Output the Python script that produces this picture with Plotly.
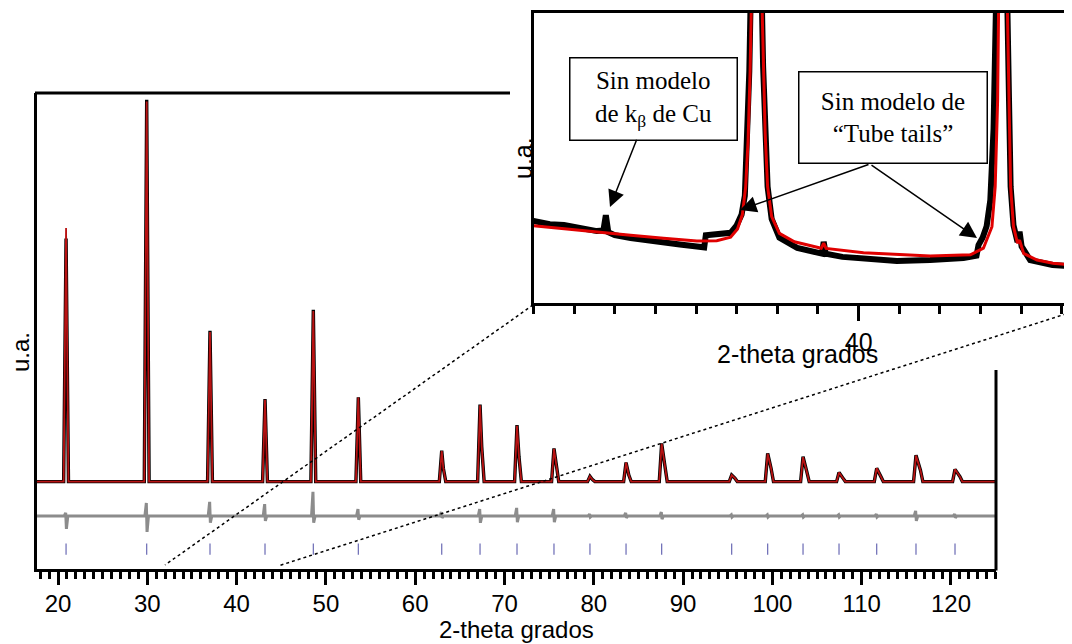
import plotly.graph_objects as go

# The page body has an 8 px margin, so the figure fills the rest of the 1072x644 window.
OFF = 8
W, H = 1072 - OFF, 644 - OFF

# ---------------- main pattern data (2-theta, relative intensity) ----------------
peak_pos = [20.90, 29.93, 37.02, 43.18, 48.59, 53.63, 62.97, 67.26, 71.40, 75.54,
            79.57, 83.61, 87.60, 95.44, 99.47, 103.43, 107.46, 111.68, 116.08, 120.45]
obs_height = [63.7, 100.0, 39.5, 21.6, 45.0, 22.1, 8.1, 20.2, 14.8, 8.7,
              1.4, 5.0, 10.0, 1.7, 7.4, 6.5, 2.4, 3.5, 6.9, 3.2]
calc_height = [66.4, 99.6, 39.2, 21.4, 44.7, 22.0, 8.0, 20.0, 14.6, 8.6,
               1.4, 5.0, 9.9, 1.7, 7.3, 6.4, 2.4, 3.5, 6.8, 3.2]
# K-alpha2 shoulders
ka2_pos = [21.00, 30.03, 37.12, 43.30, 48.73, 53.80, 63.15, 67.45, 71.62, 75.80,
           79.85, 83.92, 87.95, 95.80, 99.85, 103.85, 107.90, 112.15, 116.58, 121.00]
ka2_height = [0.0, 0.0, 0.0, 0.0, 0.0, 0.0, 3.5, 9.1, 6.5, 3.9,
              0.5, 1.7, 4.3, 0.9, 3.5, 2.6, 0.9, 1.3, 3.0, 1.3]
# difference curve (obs - calc) excursions at each reflection
res_up = [0.8, 3.4, 3.7, 3.1, 6.3, 1.8, 1.0, 1.8, 2.1, 1.8,
          0.5, 0.8, 1.0, 0.3, 0.3, 0.3, 0.3, 0.5, 1.3, 0.5]
res_down = [3.4, 4.2, 1.8, 1.3, 1.8, 1.0, 0.5, 1.8, 1.6, 1.6,
            0.3, 0.5, 0.8, 0.3, 0.3, 0.3, 0.3, 0.3, 1.3, 0.5]
bragg_pos = peak_pos

X_MIN, X_MAX = 17.59, 125.04
Y_MIN, Y_MAX = -22.9, 101.8
RES_OFFSET = -9.0
BRAGG_LEVEL = -17.7

# ---------------- inset data (zoom 32-45 deg) ----------------
inset_calc_x = [32.0, 32.8, 33.56, 34.39, 35.2, 36.02, 36.51, 36.85, 37.02, 37.14, 37.22,
                37.28, 37.33, 37.37, 37.61, 37.65, 37.70, 37.76, 37.86, 38.05, 38.42,
                39.08, 39.14, 39.20, 40.12, 41.76, 42.75, 43.07, 43.28, 43.36, 43.42,
                43.45, 43.65, 43.70, 43.74, 43.81, 43.91, 43.96, 44.06, 44.39, 44.78, 45.3]
inset_calc_y = [26.6, 25.6, 24.6, 23.4, 22.3, 21.4, 21.5, 22.7, 25.5, 30.5, 40.0,
                56.0, 80.0, 110.0, 110.0, 81.5, 58.5, 40.1, 29.8, 24.0, 21.1,
                18.9, 20.6, 18.8, 17.3, 16.2, 16.6, 18.9, 26.3, 40.1, 70.0,
                110.0, 110.0, 70.0, 40.1, 26.3, 20.6, 21.7, 17.1, 14.8, 13.7, 13.0]
inset_obs_x = [32.0, 32.4, 32.75, 33.2, 33.56, 33.72, 33.78, 33.84, 34.0, 34.39, 34.8,
               35.2, 35.6, 36.02, 36.2, 36.24, 36.5, 36.85, 37.0, 37.12, 37.2, 37.26,
               37.31, 37.35, 37.61, 37.65, 37.70, 37.76, 37.86, 38.05, 38.49, 39.0,
               39.1, 39.14, 39.19, 39.6, 40.12, 40.94, 41.76, 42.58, 42.9, 42.95, 43.05,
               43.15, 43.24, 43.32, 43.39, 43.65, 43.70, 43.74, 43.81, 43.91, 43.96,
               44.01, 44.22, 44.5, 44.77, 45.3]
inset_obs_y = [28.3, 27.2, 26.9, 25.6, 24.8, 25.0, 30.3, 24.4, 23.4, 22.4, 21.5,
               20.9, 20.2, 19.5, 19.2, 23.4, 23.6, 24.2, 26.8, 30.5, 37.0, 55.0,
               80.0, 110.0, 110.0, 81.5, 58.5, 40.1, 29.0, 22.5, 19.0, 17.3,
               17.0, 21.1, 17.0, 15.9, 15.2, 14.5, 14.8, 15.5, 16.3, 20.0, 22.5,
               26.5, 35.5, 60.0, 110.0, 110.0, 70.0, 40.1, 26.8, 21.0, 24.6,
               19.5, 14.8, 13.8, 13.1, 12.7]

I_X_MIN, I_X_MAX = 32.0, 45.25
I_Y_MIN, I_Y_MAX = 0.0, 100.0

HALF = 0.27


def profile(heights):
    xs, ys = [X_MIN], [0.0]
    for p, h, p2, s in zip(peak_pos, heights, ka2_pos, ka2_height):
        xs += [p - HALF, p]
        ys += [0.0, h]
        if s > 0:
            xs += [p2, p2 + HALF]
            ys += [s, 0.0]
        else:
            xs += [p + HALF]
            ys += [0.0]
    xs.append(X_MAX)
    ys.append(0.0)
    return xs, ys


def residual():
    xs, ys = [X_MIN], [RES_OFFSET]
    for p, u, d in zip(peak_pos, res_up, res_down):
        xs += [p - 0.2, p - 0.04, p + 0.04, p + 0.2]
        ys += [RES_OFFSET, RES_OFFSET + u, RES_OFFSET - d, RES_OFFSET]
    xs.append(X_MAX)
    ys.append(RES_OFFSET)
    return xs, ys


def px(x):
    return (x - OFF) / W


def py(y):
    return 1 - (y - OFF) / H


fig = go.Figure()

ox, oy = profile(obs_height)
cx, cy = profile(calc_height)
rx, ry = residual()

fig.add_trace(go.Scatter(x=ox, y=oy, mode="lines", line=dict(color="black", width=3.4),
                         name="Observado", showlegend=False, xaxis="x", yaxis="y"))
fig.add_trace(go.Scatter(x=cx, y=cy, mode="lines", line=dict(color="#b81212", width=1.8),
                         name="Calculado", showlegend=False, xaxis="x", yaxis="y"))
fig.add_trace(go.Scatter(x=rx, y=ry, mode="lines", line=dict(color="#8c8c8c", width=3),
                         name="Diferencia", showlegend=False, xaxis="x", yaxis="y"))
fig.add_trace(go.Scatter(x=bragg_pos, y=[BRAGG_LEVEL] * len(bragg_pos), mode="markers",
                         marker=dict(symbol="line-ns", size=8, line=dict(color="#6a6ab4", width=1.2)),
                         name="Bragg", showlegend=False, xaxis="x", yaxis="y"))

# inset
fig.add_trace(go.Scatter(x=inset_obs_x, y=inset_obs_y, mode="lines",
                         line=dict(color="black", width=6), showlegend=False,
                         xaxis="x2", yaxis="y2"))
fig.add_trace(go.Scatter(x=inset_calc_x, y=inset_calc_y, mode="lines",
                         line=dict(color="#e00000", width=3), showlegend=False,
                         xaxis="x2", yaxis="y2"))

SANS = "Liberation Sans, Arial, sans-serif"
SERIF = "Liberation Serif, Times New Roman, serif"

fig.update_layout(
    width=W, height=H,
    margin=dict(l=0, r=0, t=0, b=0),
    paper_bgcolor="white", plot_bgcolor="white",
    showlegend=False,
    font=dict(family=SANS, color="black"),
    xaxis=dict(domain=[px(36.5), px(996)], range=[X_MIN, X_MAX], anchor="y",
               showline=True, linecolor="black", linewidth=3, mirror=False,
               showgrid=False, zeroline=False,
               ticks="outside", tickmode="linear", tick0=0, dtick=10, ticklen=13,
               tickwidth=3, tickcolor="black", ticklabelstandoff=-2,
               minor=dict(ticks="outside", dtick=1, ticklen=7, tickwidth=2.5, tickcolor="black"),
               tickfont=dict(size=24, family=SANS)),
    yaxis=dict(domain=[py(569), py(93)], range=[Y_MIN, Y_MAX], anchor="x",
               showline=True, linecolor="black", linewidth=3,
               showgrid=False, zeroline=False, showticklabels=False, ticks=""),
    xaxis2=dict(domain=[px(533.5), 1.0], range=[I_X_MIN, I_X_MAX], anchor="y2",
                showline=True, linecolor="black", linewidth=3, mirror=True,
                showgrid=False, zeroline=False,
                ticks="outside", tickmode="linear", tick0=0, dtick=10, ticklen=15,
                tickwidth=3, tickcolor="black",
                minor=dict(ticks="outside", dtick=1, ticklen=8, tickwidth=3, tickcolor="black"),
                tickfont=dict(size=25, family=SANS)),
    yaxis2=dict(domain=[py(303), py(13)], range=[I_Y_MIN, I_Y_MAX], anchor="x2",
                showline=True, linecolor="black", linewidth=3,
                showgrid=False, zeroline=False, showticklabels=False, ticks=""),
)

shapes = [
    # rest of the main frame (partly hidden by the inset)
    dict(type="line", xref="paper", yref="paper", x0=px(35), x1=px(510), y0=py(93), y1=py(93),
         line=dict(color="black", width=3)),
    dict(type="line", xref="paper", yref="paper", x0=px(996), x1=px(996), y0=py(370), y1=py(570.5),
         line=dict(color="black", width=3)),
    # dotted zoom guides
    dict(type="line", xref="paper", yref="paper", x0=px(533), y0=py(305), x1=px(165), y1=py(565),
         line=dict(color="black", width=1.5, dash="dot")),
    dict(type="line", xref="paper", yref="paper", x0=px(1072), y0=py(312), x1=px(278), y1=py(566),
         line=dict(color="black", width=1.5, dash="dot")),
]
fig.update_layout(shapes=shapes)


def label(text, x, y, size=25, angle=0, **kw):
    return dict(text=text, x=px(x), y=py(y), xref="paper", yref="paper",
                xanchor="center", yanchor="middle", showarrow=False,
                textangle=angle, font=dict(size=size, family=kw.pop("family", SANS)), **kw)


def arrow(hx, hy, tx, ty):
    return dict(text="", x=px(hx), y=py(hy), xref="paper", yref="paper", showarrow=True,
                ax=tx - hx, ay=ty - hy, axref="pixel", ayref="pixel", arrowhead=2,
                arrowsize=2.2, arrowwidth=1.5, arrowcolor="black", standoff=0,
                startstandoff=0, xanchor="center", yanchor="middle")


# box 1 carries its own arrow (head at the K-beta bump)
box1 = dict(text="Sin modelo<br>de k<sub>β</sub> de Cu", x=px(610), y=py(207),
            xref="paper", yref="paper", showarrow=True, ax=653 - 610, ay=98.5 - 207,
            axref="pixel", ayref="pixel", arrowhead=2, arrowsize=2.2, arrowwidth=1.5,
            arrowcolor="black", standoff=0, xanchor="center", yanchor="middle",
            font=dict(size=25, family=SERIF), bgcolor="white", bordercolor="black",
            borderwidth=1.5, borderpad=0, width=166, height=81)

ann = [
    label("2-theta grados", 516, 629, size=24, borderpad=0),
    label("u.a.", 20, 352, size=24, angle=-90),
    label("2-theta grados", 797, 354, size=25),
    label("u.a.", 523, 158, size=25, angle=-90),
    box1,
    label("Sin modelo de<br>“Tube tails”", 892.5, 118, size=25, family=SERIF,
          bgcolor="white", bordercolor="black", borderwidth=1.5, borderpad=0,
          width=187, height=90),
    arrow(740, 210, 870, 164),
    arrow(977, 238, 870, 164),
]
fig.update_layout(annotations=ann)

fig.write_html("out.html")
